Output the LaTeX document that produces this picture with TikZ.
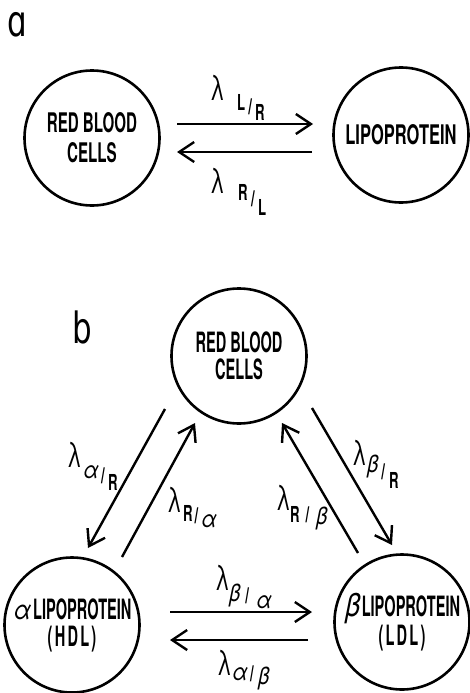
\documentclass[tikz,border=0pt]{standalone}
\usepackage{fontspec}
\usetikzlibrary{arrows.meta,calc}
% condensed lettering for compartment names
\newfontfamily\namefa[FakeStretch=0.56]{TeX Gyre Heros}
\newfontfamily\namefaw[FakeStretch=0.61]{TeX Gyre Heros}
\newfontfamily\namefb[FakeStretch=0.52]{TeX Gyre Heros}
\newfontfamily\namefbs[FakeStretch=0.52,LetterSpace=8]{TeX Gyre Heros}
% rate constant lettering
\newfontfamily\lamfont[FakeStretch=0.6]{TeX Gyre Heros}
\newfontfamily\subfont[FakeStretch=0.6]{TeX Gyre Heros}
\newfontfamily\greekfont[FakeStretch=0.85,FakeSlant=0.2]{TeX Gyre Heros}
\newfontfamily\panelfont[FakeStretch=0.72]{DejaVu Sans}
\newcommand\gk[1]{{\greekfont\mdseries\fontsize{24}{24}\selectfont #1}}
% rate label: name, lambda x/base, numerator text x/base, denominator text x/base
\newcommand\ratelabel[9]{%
  \node[lam, anchor=base west] (#1-l) at (#2,#3) {λ};
  \node[subl, anchor=base west] (#1-n) at (#5,#6) {#4};
  \node[subl, anchor=base west] (#1-d) at (#8,#9) {#7};
  \node[subl, anchor=base] (#1-s) at ($(#1-n.base east)!.5!(#1-d.base west)+(0,-1)$) {/};
}
\begin{document}
\begin{tikzpicture}[x=1pt,y=-1pt,
  comp/.style={circle, draw, line width=2.6pt, minimum size=135pt, inner sep=0pt, align=center},
  arr/.style={line width=2.4pt, -{Straight Barb[length=15pt,width=20pt]}},
  lam/.style={inner sep=0pt, font=\lamfont\fontsize{35}{35}\selectfont},
  subl/.style={inner sep=0pt, font=\subfont\bfseries\fontsize{22}{22}\selectfont},
  panel/.style={inner sep=0pt, anchor=base west, font=\panelfont\fontsize{43}{43}\selectfont}]
\useasboundingbox (0,0) rectangle (470,693);

% ---- panel a: two compartments ----
\node[panel] (pa) at (7,37) {ɑ};
\node[comp, font=\namefa\bfseries\fontsize{27}{30}\selectfont] (rbcA) at (92,138) {RED BLOOD\\CELLS};
\node[comp, font=\namefaw\bfseries\fontsize{27}{30}\selectfont] (lipA) at (401,135) {LIPOPROTEIN};

\draw[arr] ($(rbcA)+(85,-14)$) -- ($(lipA)+(-88,-11)$);
\draw[arr] ($(lipA)+(-89,17)$) -- ($(rbcA)+(85,14)$);

\ratelabel{kLR}{210}{100}{L}{237}{110}{R}{255}{120}
\ratelabel{kRL}{210}{193}{R}{238}{200}{L}{258}{215}

% ---- panel b: three compartments ----
\node[panel] (pb) at (72,343) {b};
\node[comp, font=\namefb\bfseries\fontsize{28}{27}\selectfont] (rbcB) at (239,356) {RED BLOOD\\CELLS};
\node[comp, font=\namefb\bfseries\fontsize{28}{27}\selectfont] (hdl) at (72,625)
  {{\greekfont\mdseries\fontsize{27}{27}\selectfont α}\kern3pt LIPOPROTEIN\\{\namefbs\bfseries (HDL)}};
\node[comp, font=\namefb\bfseries\fontsize{28}{27}\selectfont] (ldl) at (402,622)
  {{\greekfont\mdseries\fontsize{32}{27}\selectfont β}\kern3pt LIPOPROTEIN\\{\namefbs\bfseries (LDL)}};

\draw[arr] ($(rbcB)+(-74,53)$) -- ($(hdl)+(16,-77)$);
\draw[arr] ($(hdl)+(50,-68)$) -- ($(rbcB)+(-44,67)$);
\draw[arr] ($(ldl)+(-44,-69)$) -- ($(rbcB)+(43,67)$);
\draw[arr] ($(rbcB)+(73,52)$) -- ($(ldl)+(-10,-77)$);
\draw[arr] ($(hdl)+(98,-13)$) -- ($(ldl)+(-90,-10)$);
\draw[arr] ($(ldl)+(-94,18)$) -- ($(hdl)+(98,15)$);

\ratelabel{kaR}{67}{467}{\gk{α}}{82}{478}{R}{108}{490}
\ratelabel{kRa}{167}{512}{R}{183}{521}{\gk{α}}{200}{527}
\ratelabel{kRb}{276}{510}{R}{290}{522}{\gk{β}}{315}{524}
\ratelabel{kbR}{352}{465}{\gk{β}}{366}{472}{R}{389}{488}
\ratelabel{kba}{215}{590}{\gk{β}}{228}{601}{\gk{α}}{255}{608}
\ratelabel{kab}{217}{675}{\gk{α}}{231}{680}{\gk{β}}{257}{684}
\end{tikzpicture}
\end{document}
